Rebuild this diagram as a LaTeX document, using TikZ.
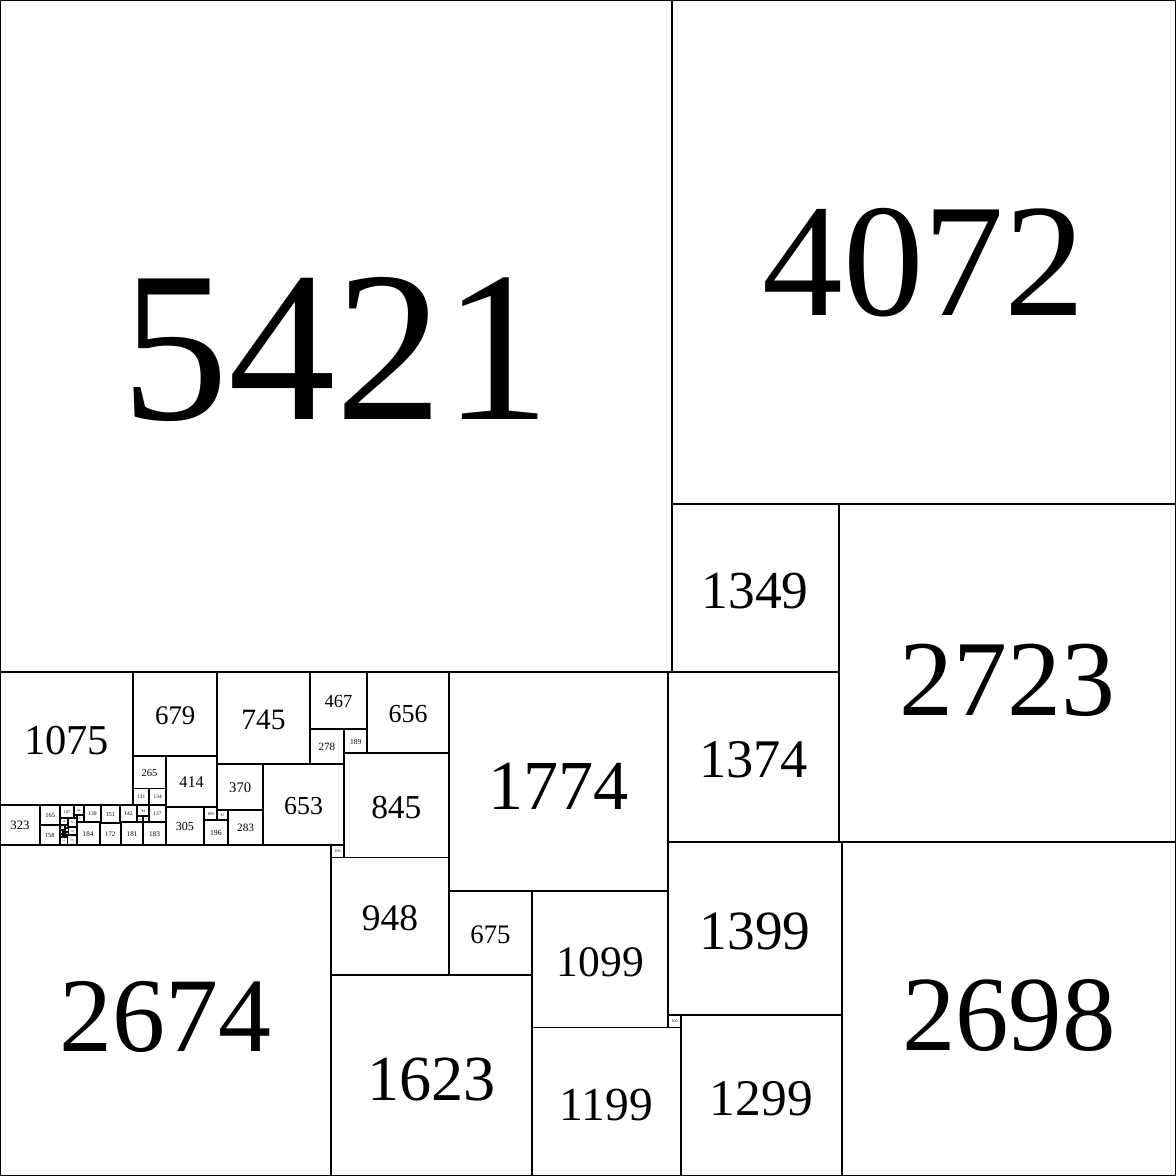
\documentclass[tikz,border=0pt]{standalone}
\usepackage{fontspec}
\setmainfont{Liberation Serif}
\begin{document}
\begin{tikzpicture}[x=0.001cm,y=-0.001cm]

    \tikzstyle{every node}=[inner sep=0pt,outer sep=0pt]
    \tikzstyle{tile}=[draw,line width=0.45pt]
    % one square: name, left, top, side
    \def\sq#1#2#3#4{%
      \draw[tile] (#2,#3) rectangle ++(#4,#4);
      \node[scale=0.00092*#4] (#1) at ({#2+0.5*#4},{#3+0.52*#4}) {#4};}

    \useasboundingbox (0,0) rectangle (9493,9493);

    % big ones
    \sq{s5421}{0}{0}{5421}
    \sq{s4072}{5421}{0}{4072}
    \sq{s1349}{5421}{4072}{1349}
    \sq{s2723}{6770}{4072}{2723}
    \sq{s1374}{5396}{5421}{1374}
    \sq{s1774}{3622}{5421}{1774}
    \sq{s1399}{5396}{6795}{1399}
    \sq{s2698}{6795}{6795}{2698}
    \sq{s1299}{5496}{8194}{1299}
    \sq{s100}{5396}{8194}{100}
    \sq{s1199}{4297}{8294}{1199}
    \sq{s1099}{4297}{7195}{1099}
    \sq{s675}{3622}{7195}{675}
    \sq{s1623}{2674}{7870}{1623}
    \sq{s2674}{0}{6819}{2674}
    \sq{s948}{2674}{6922}{948}
    \sq{s103}{2674}{6819}{103}
    \sq{s845}{2777}{6077}{845}
    \sq{s656}{2966}{5421}{656}
    \sq{s467}{2499}{5421}{467}
    \sq{s189}{2777}{5888}{189}
    \sq{s278}{2499}{5888}{278}
    \sq{s653}{2124}{6166}{653}
    \sq{s745}{1754}{5421}{745}
    \sq{s370}{1754}{6166}{370}
    \sq{s283}{1841}{6536}{283}
    \sq{s87}{1754}{6536}{87}
    \sq{s109}{1645}{6514}{109}
    \sq{s196}{1645}{6623}{196}
    \sq{s305}{1340}{6514}{305}
    \sq{s414}{1340}{6100}{414}
    \sq{s679}{1075}{5421}{679}
    \sq{s1075}{0}{5421}{1075}
    \sq{s265}{1075}{6100}{265}

    % the bottom row of small ones
    \sq{s131}{1075}{6365}{131}
    \sq{s134}{1206}{6365}{134}
    \sq{s3}{1203}{6496}{3}
    \sq{s137}{1203}{6499}{137}
    \sq{s183}{1157}{6636}{183}
    \sq{s94}{1109}{6496}{94}
    \sq{s48}{1109}{6590}{48}
    \sq{s46}{1157}{6590}{46}
    \sq{s142}{967}{6496}{142}
    \sq{s181}{976}{6638}{181}
    \sq{s9}{967}{6638}{9}
    \sq{s151}{816}{6496}{151}
    \sq{s172}{804}{6647}{172}
    \sq{s12}{804}{6635}{12}
    \sq{s139}{677}{6496}{139}
    \sq{s184}{620}{6635}{184}
    \sq{s323}{0}{6496}{323}
    \sq{s165}{323}{6496}{165}
    \sq{s158}{323}{6661}{158}
    \sq{s107}{488}{6496}{107}
    \sq{s82}{595}{6496}{82}
    \sq{s57}{620}{6578}{57}
    \sq{s25}{595}{6578}{25}

    % tiny cluster
    \sq{s58}{488}{6603}{58}
    \sq{s74}{546}{6603}{74}
    \sq{s42}{481}{6661}{42}
    \sq{s23}{523}{6661}{23}
    \sq{s7}{546}{6677}{7}
    \sq{s67}{553}{6677}{67}
    \sq{s30a}{523}{6684}{30}
    \sq{s30b}{523}{6714}{30}
    \sq{s75}{545}{6744}{75}
    \sq{s64}{481}{6755}{64}
    \sq{s11a}{523}{6744}{11}
    \sq{s11b}{534}{6744}{11}
    \sq{s26a}{481}{6703}{26}
    \sq{s26b}{481}{6729}{26}
    \sq{s16a}{507}{6703}{16}
    \sq{s16b}{507}{6719}{16}
    \sq{s16c}{507}{6735}{16}
    \sq{s4a}{507}{6751}{4}
    \sq{s4b}{511}{6751}{4}
    \sq{s4c}{515}{6751}{4}
    \sq{s4d}{519}{6751}{4}

\end{tikzpicture}
\end{document}
